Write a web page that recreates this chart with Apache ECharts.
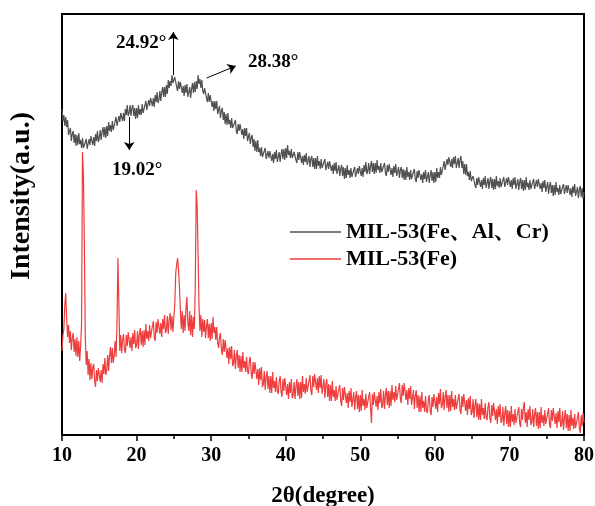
<!DOCTYPE html>
<html>
<head>
<meta charset="utf-8">
<script src="https://cdn.jsdelivr.net/npm/echarts@6/dist/echarts.min.js"></script>
<style>
  html, body { margin: 0; padding: 0; background: #fff; }
  #chart { width: 595px; height: 506px; }
</style>
</head>
<body>
<div id="chart"></div>
<script>
// XRD patterns sampled every 0.125° from 10° to 80° (2θ), eight points per degree
const angleStart = 10;
const angleStep = 0.125;

const seriesNames = ['MIL-53(Fe、Al、Cr)', 'MIL-53(Fe)'];

// MIL-53(Fe、Al、Cr), intensity (a.u.)
const mixedMetal = [
  326,314,320,309,318,308,315,300,  300,307,294,301,304,292,301,289,
  300,290,302,291,295,287,297,287,  285,293,296,286,285,296,290,299,
  300,290,298,289,301,294,304,293,  297,305,295,303,308,298,308,297,
  309,299,313,304,310,303,314,305,  305,314,318,309,308,319,313,322,
  323,314,322,314,326,320,330,319,  322,330,319,327,330,319,327,316,
  327,317,330,320,326,320,331,322,  322,330,334,325,324,335,329,337,
  338,329,337,328,340,333,343,332,  335,344,334,343,348,338,348,338,
  350,341,355,347,354,349,360,352,  351,358,359,348,344,354,346,353,
  353,342,349,339,350,342,351,338,  340,348,337,346,352,342,353,343,
  354,346,360,351,356,347,355,344,  341,347,349,337,333,342,333,340,
  339,328,334,324,334,326,334,321,  323,329,317,324,327,315,323,311,
  321,310,322,311,315,307,317,307,  305,312,315,304,301,311,304,311,
  311,300,306,296,307,299,307,294,  295,302,291,297,300,288,296,284,
  294,283,295,283,287,279,288,278,  277,284,287,276,274,284,277,284,
  284,274,281,272,283,276,285,273,  275,283,273,281,286,276,286,275,
  287,277,290,280,284,277,286,277,  275,283,285,275,272,283,275,283,
  282,272,279,270,280,273,282,270,  271,279,268,276,279,268,277,266,
  277,266,279,269,274,266,276,267,  265,273,276,265,263,273,266,274,
  274,264,270,261,272,264,273,261,  262,270,259,266,270,259,268,256,
  267,257,270,260,265,257,267,258,  257,265,268,258,256,267,261,269,
  269,259,267,258,270,263,273,261,  264,272,261,269,274,263,272,261,
  272,262,275,265,269,262,272,263,  261,269,272,262,259,270,263,271,
  270,260,267,258,269,262,271,259,  260,268,257,265,268,257,266,255,
  265,255,268,258,263,255,265,256,  255,263,266,256,253,264,257,265,
  265,255,261,252,263,256,265,253,  255,263,252,260,265,254,263,252,
  263,253,267,257,263,257,268,260,  260,269,274,265,264,276,270,278,
  278,268,276,267,278,271,279,267,  269,277,267,275,279,267,274,261,
  271,260,271,259,263,255,264,254,  252,259,261,250,247,257,250,258,
  258,248,255,246,257,250,259,247,  249,257,246,254,258,247,256,245,
  256,246,259,249,254,247,257,248,  247,255,258,248,246,257,250,258,
  258,248,255,246,257,250,258,246,  248,256,245,253,257,246,255,244,
  255,245,258,248,252,245,255,246,  245,253,256,246,244,255,248,256,
  256,246,252,243,254,247,255,243,  245,253,241,249,253,242,250,239,
  250,240,253,243,247,240,250,241,  240,248,251,241,239,250,242,250,
  250,240,247,238,249,242,251,239,  240,248,237,245,249,238,247,236,
  243
];

// MIL-53(Fe), intensity (a.u.)
const ironOnly = [
  84,100,106,130,142,116,98,110,  92,104,85,97,102,83,96,79,
  98,78,94,74,90,112,283,260,  190,98,70,84,60,76,55,72,
  56,67,71,54,48,65,54,67,  68,53,65,52,71,61,77,60,
  65,80,64,79,88,72,87,72,  80,94,78,112,177,132,84,100,
  82,95,101,85,82,100,89,103,  103,87,98,84,102,91,105,87,
  90,104,86,100,107,90,104,88,  105,90,111,96,104,94,110,97,
  95,109,114,98,94,113,102,116,  116,101,112,98,116,106,120,102,
  105,119,101,115,122,105,119,103,  118,130,162,170,177,166,148,124,
  106,124,102,120,104,126,138,112,  104,124,100,120,98,118,106,150,
  245,230,180,128,104,120,98,116,  103,115,97,109,116,97,111,94,
  112,96,118,102,108,95,108,92,  87,98,102,85,80,96,83,95,
  94,77,87,71,88,76,89,69,  72,85,66,79,85,67,80,63,
  79,63,83,67,74,63,78,64,  61,74,78,61,56,73,61,73,
  72,56,66,50,67,55,68,48,  51,64,45,58,64,46,59,42,
  59,42,63,47,54,43,58,44,  41,54,59,43,38,56,44,57,
  56,40,51,36,53,42,56,37,  40,53,36,49,56,39,53,36,
  53,37,59,43,51,41,57,43,  41,54,60,44,40,59,48,61,
  61,45,57,42,59,47,60,41,  43,56,37,50,56,38,51,34,
  50,34,54,38,45,34,49,35,  33,46,50,34,29,47,35,48,
  48,32,42,27,44,33,47,28,  30,43,25,38,44,26,40,23,
  40,24,45,29,36,25,41,27,  25,38,43,27,12,41,30,43,
  44,28,39,25,43,32,46,27,  30,44,26,40,47,30,44,27,
  44,29,50,35,43,33,49,35,  33,46,52,36,32,50,39,52,
  51,35,45,30,47,36,49,30,  32,45,26,39,45,27,40,23,
  39,23,43,27,34,23,39,25,  22,35,40,24,20,38,28,41,
  42,26,38,23,42,31,46,27,  30,43,25,38,45,27,40,23,
  40,24,44,28,36,25,40,26,  24,37,41,25,21,39,28,41,
  40,24,35,20,37,26,39,20,  23,36,17,30,36,18,32,15,
  31,15,36,20,27,16,32,18,  15,28,33,17,12,30,19,32,
  31,15,26,11,29,18,31,12,  15,28,9,22,29,11,25,8,
  24,8,29,13,21,10,26,12,  10,23,28,12,8,26,15,28,
  33,12,23,8,26,15,29,10,  13,26,8,21,27,9,23,6,
  23,7,28,12,20,9,25,11,  9,22,27,11,7,25,14,27,
  27,11,22,7,24,13,27,8,  11,24,5,18,25,7,21,4,
  20,4,25,9,17,6,21,7,  5,18,23,7,2,20,9,22,
  12
];

// Axis range and tick spacing
const xMin = 10, xMax = 80, xInterval = 10;

// Peak annotations: label text, arrow start / end in (2θ, intensity)
const peakLabels = ['24.92°', '28.38°', '19.02°'];
const arrowFrom = [[24.92, 360], [29.4, 357], [19.02, 318]];
const arrowTo   = [[24.92, 403], [33.3, 369], [19.02, 285]];

const toPairs = vals => vals.map((v, i) => [angleStart + i * angleStep, v]);

const serif = '"Liberation Serif", "Times New Roman", "Noto Serif CJK SC", "Noto Sans CJK SC", serif';
const darkGray = '#505050';
const red = '#ef3d3d';

const chart = echarts.init(document.getElementById('chart'), null, { renderer: 'canvas' });

const annotationText = (text, x, y) => ({
  type: 'text', x, y,
  style: { text, fontFamily: serif, fontWeight: 'bold', fontSize: 19, fill: '#000', verticalAlign: 'middle' }
});

chart.setOption({
  animation: false,
  backgroundColor: '#fff',
  grid: {
    left: 62, right: 11, top: 14, bottom: 71,
    outerBoundsMode: 'none',
    show: true, borderColor: '#000', borderWidth: 2, backgroundColor: 'transparent'
  },
  legend: {
    orient: 'vertical',
    left: 290, top: 221, padding: 0,
    icon: 'rect',
    itemWidth: 51, itemHeight: 1.5, itemGap: 5,
    textStyle: { fontFamily: serif, fontWeight: 'bold', fontSize: 22, color: '#000' },
    data: seriesNames
  },
  xAxis: {
    type: 'value', min: xMin, max: xMax, interval: xInterval,
    name: '2θ(degree)', nameLocation: 'middle', nameGap: 50,
    nameTextStyle: { fontFamily: serif, fontWeight: 'bold', fontSize: 23, color: '#000' },
    axisLine: { show: true, lineStyle: { color: '#000', width: 2 } },
    axisTick: { show: true, inside: false, length: 6, lineStyle: { color: '#000', width: 1.5 } },
    minorTick: { show: true, splitNumber: 2, length: 4, lineStyle: { color: '#000', width: 1.5 } },
    axisLabel: { fontFamily: serif, fontWeight: 'bold', fontSize: 20, color: '#000', margin: 11 },
    splitLine: { show: false }
  },
  yAxis: {
    type: 'value', min: 0, max: 421,
    axisLine: { show: false }, axisTick: { show: false },
    axisLabel: { show: false }, splitLine: { show: false }
  },
  series: [
    {
      name: seriesNames[0], type: 'line', data: toPairs(mixedMetal),
      symbol: 'none', lineStyle: { color: darkGray, width: 1.2 }, itemStyle: { color: darkGray },
      markLine: {
        silent: true, symbol: ['none', 'arrow'], symbolSize: 8,
        lineStyle: { color: '#000', width: 1, type: 'solid' },
        label: { show: false },
        data: arrowFrom.map((p, i) => [{ coord: p }, { coord: arrowTo[i] }])
      }
    },
    {
      name: seriesNames[1], type: 'line', data: toPairs(ironOnly),
      symbol: 'none', lineStyle: { color: red, width: 1.2 }, itemStyle: { color: red }
    }
  ],
  graphic: [
    {
      type: 'text', x: 22, y: 196, rotation: Math.PI / 2,
      style: { text: 'Intensity(a.u.)', fontFamily: serif, fontWeight: 'bold', fontSize: 28, fill: '#000',
               align: 'center', verticalAlign: 'middle' }
    },
    annotationText(peakLabels[0], 116, 43),
    annotationText(peakLabels[1], 248, 62),
    annotationText(peakLabels[2], 112, 170)
  ]
});
</script>
</body>
</html>
